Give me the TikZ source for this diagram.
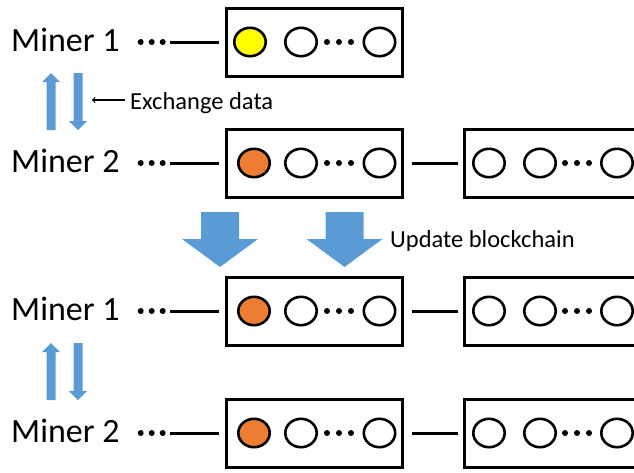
\documentclass[tikz,border=0pt]{standalone}
\usepackage{fontspec}
\setmainfont{Carlito}
\usetikzlibrary{shapes.geometric}
\definecolor{xblue}{HTML}{5B9BD5}
\definecolor{minedorange}{HTML}{ED7D31}
\definecolor{newyellow}{HTML}{FFFF00}

\begin{document}
\begin{tikzpicture}
[x=1pt,y=-1pt,
 block/.style={draw,line width=3pt,minimum width=176pt,minimum height=68pt,inner sep=0pt},
 txn/.style={ellipse,draw,line width=2.6pt,minimum width=31.4pt,minimum height=28.4pt,inner sep=0pt},
 bead/.style={circle,fill,inner sep=0pt,minimum size=6pt},
 link/.style={line width=3pt},
 miner/.style={font=\fontsize{34}{40}\selectfont,inner sep=0pt,anchor=base west},
 note/.style={font=\fontsize{24.5}{28}\selectfont,inner sep=0pt,anchor=base west}]
\useasboundingbox (0,0) rectangle (634,472);
\clip (0,0) rectangle (634,472);

% miners and their first block
\foreach \n/\y/\lab/\cx/\c in {1/42/Miner 1/250/newyellow, 2/163/Miner 2/254/minedorange,
                               3/311/Miner 1/254/minedorange, 4/433/Miner 2/254/minedorange} {
	\node (m\n) at (11,\y+9) [miner] {\lab};
	\foreach \d [count=\k] in {140.7,151.7,162.7}
		\node (m\n d\k) at (\d,\y) [bead] {};
	\coordinate (m\n e) at (170,\y);
	\node (b\n a) at (314.5,\y) [block] {};
	\node (t\n a1) at (\cx,\y) [txn,fill=\c] {};
	\node (t\n a2) at (301,\y) [txn] {};
	\node (t\n a3) at (379.5,\y) [txn] {};
	\foreach \d [count=\k] in {327,339,351}
		\node (b\n a d\k) at (\d,\y) [bead] {};
	\draw [link,shorten >=6.5pt] (m\n e) -- (b\n a);
}

% second block
\foreach \n/\y in {2/163, 3/311, 4/433} {
	\node (b\n b) at (552.5,\y) [block] {};
	\node (t\n b1) at (489,\y) [txn] {};
	\node (t\n b2) at (540,\y) [txn] {};
	\node (t\n b3) at (617,\y) [txn] {};
	\foreach \d [count=\k] in {565,577,589}
		\node (b\n b d\k) at (\d,\y) [bead] {};
	\draw [link,shorten <=7.5pt,shorten >=5.5pt] (b\n a) -- (b\n b);
}

% exchange arrows
\foreach \t in {73,343} {
	\fill [xblue] (46.5,\t+57) -- (46.5,\t+9) -- (42,\t+9) -- (51,\t) -- (60,\t+9) -- (55.5,\t+9) -- (55.5,\t+57) -- cycle;
	\fill [xblue] (73.5,\t) -- (82.5,\t) -- (82.5,\t+48) -- (87,\t+48) -- (78,\t+57) -- (69,\t+48) -- (73.5,\t+48) -- cycle;
}

% update arrows
\foreach \x in {220,344.5}
	\fill [xblue] (\x-19,212) -- (\x+19,212) -- (\x+19,239) -- (\x+38,239) -- (\x,267) -- (\x-38,239) -- (\x-19,239) -- cycle;

\node (xch) at (130,109) [note] {Exchange data};
\coordinate (xchtip) at (92,100);
\draw [->,line width=1.2pt] (125,100) -- (xchtip);
\node (upd) at (390,247) [note] {Update blockchain};

\end{tikzpicture}
\end{document}
